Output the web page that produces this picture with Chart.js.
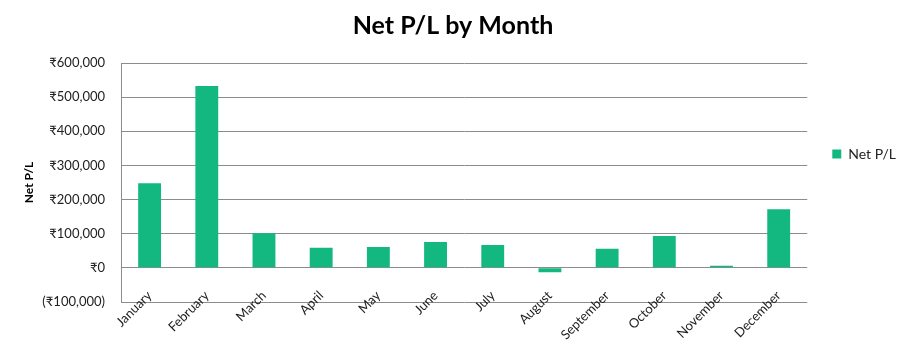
<!DOCTYPE html>
<html lang="en">
<head>
  <meta charset="UTF-8">
  <title>Net P/L by Month</title>
  <script src="https://cdn.jsdelivr.net/npm/chart.js@4.4.0/dist/chart.umd.min.js"></script>
  <style>
    html, body { margin: 0; padding: 0; background: #ffffff; }
    #wrap { width: 910px; height: 348px; }
  </style>
</head>
<body>
  <div id="wrap"><canvas id="plChart"></canvas></div>

  <script>
    const months = ["January", "February", "March", "April", "May", "June",
                    "July", "August", "September", "October", "November", "December"];
    const netPL = [248000, 533000, 101000, 59000, 61000, 76000,
                   67000, -13000, 56000, 93000, 6000, 172000];
    const yTicks = [-100000, 0, 100000, 200000, 300000, 400000, 500000, 600000];

    function rupee(v) {
      const s = "\u20B9" + Math.abs(v).toLocaleString("en-US");
      return v < 0 ? "(" + s + ")" : s;
    }

    const fontFam = "Lato, 'Open Sans', sans-serif";

    new Chart(document.getElementById("plChart"), {
      type: "bar",
      data: {
        labels: months,
        datasets: [{
          label: "Net P/L",
          data: netPL,
          backgroundColor: "#13b881",
          borderWidth: 0,
          categoryPercentage: 1.0,
          barPercentage: 0.4
        }]
      },
      options: {
        responsive: true,
        maintainAspectRatio: false,
        animation: false,
        layout: { padding: { left: 0, right: 4, top: 6, bottom: 46 } },
        plugins: {
          title: {
            display: true,
            text: "Net P/L by Month",
            color: "#000",
            font: { family: fontFam, size: 25, weight: "bold" },
            padding: { top: 5, bottom: 22 }
          },
          legend: {
            position: "right",
            labels: {
              boxWidth: 9,
              boxHeight: 9,
              color: "#222",
              font: { family: fontFam, size: 14 },
              padding: 25
            }
          },
          tooltip: { enabled: false }
        },
        scales: {
          y: {
            min: -100000,
            max: 600000,
            afterBuildTicks: axis => { axis.ticks = yTicks.map(v => ({ value: v })); },
            afterFit: axis => { axis.width = 121; },
            ticks: {
              color: "#222",
              font: { family: fontFam, size: 13 },
              padding: 16,
              callback: v => rupee(v)
            },
            grid: { color: "#8c8c8c", drawTicks: false },
            border: { display: true, color: "#8c8c8c" },
            title: {
              display: true,
              text: "Net P/L",
              color: "#000",
              font: { family: fontFam, size: 12, weight: "bold" },
              padding: { top: 22, bottom: 2 }
            }
          },
          x: {
            position: { y: 0 },
            grid: { display: false },
            border: { display: false },
            ticks: {
              color: "#222",
              font: { family: fontFam, size: 13 },
              minRotation: 45,
              maxRotation: 45,
              padding: 12
            }
          }
        }
      }
    });
  </script>
</body>
</html>
